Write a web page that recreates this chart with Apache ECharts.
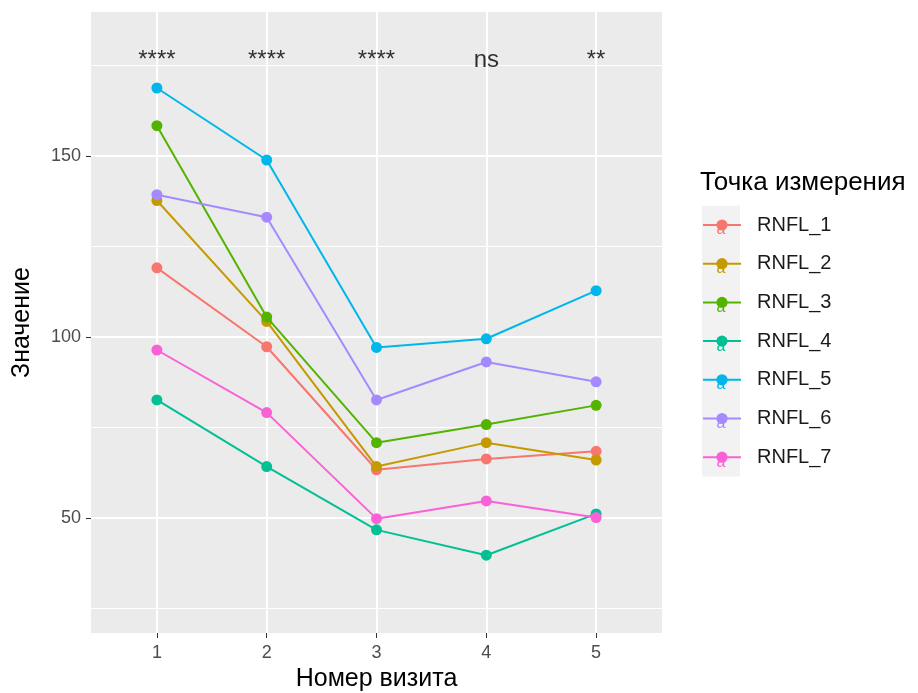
<!DOCTYPE html>
<html>
<head>
<meta charset="utf-8">
<script src="https://cdn.jsdelivr.net/npm/echarts@6/dist/echarts.min.js"></script>
<style>
  html, body { margin: 0; padding: 0; background: #ffffff; }
  #chart { width: 918px; height: 693px; }
</style>
</head>
<body>
<div id="chart"></div>
<script>
// Visits on the x axis
const visits = [1, 2, 3, 4, 5];

// Mean RNFL value per measurement point, per visit
const rnfl1 = [119.1, 97.3, 63.3, 66.3, 68.4];
const rnfl2 = [137.7, 104.3, 64.2, 70.8, 66.0];
const rnfl3 = [158.4, 105.5, 70.8, 75.8, 81.1];
const rnfl4 = [82.6, 64.2, 46.7, 39.7, 51.1];
const rnfl5 = [168.8, 148.9, 97.1, 99.5, 112.8];
const rnfl6 = [139.3, 133.1, 82.6, 93.1, 87.6];
const rnfl7 = [96.4, 79.1, 49.8, 54.7, 50.1];

const seriesNames = ['RNFL_1', 'RNFL_2', 'RNFL_3', 'RNFL_4', 'RNFL_5', 'RNFL_6', 'RNFL_7'];
const seriesValues = [rnfl1, rnfl2, rnfl3, rnfl4, rnfl5, rnfl6, rnfl7];
const palette = ['#F8766D', '#C49A00', '#53B400', '#00C094', '#00B6EB', '#A58AFF', '#FB61D7'];

// Significance labels per visit and the height where they sit
const signifLabels = ['****', '****', '****', 'ns', '**'];
const signifY = 176.4;

// Axis ticks
const yMajorTicks = [50, 100, 150];
const yMinorTicks = [25, 75, 125, 175];
const yMin = 18.2, yMax = 189.8;
const xMin = 0.4, xMax = 5.6;

const FONT = 'Liberation Sans, Arial, sans-serif';

const chart = echarts.init(document.getElementById('chart'), null, { renderer: 'canvas' });

const lineSeries = seriesNames.map((name, i) => ({
  name: name,
  type: 'line',
  xAxisIndex: 0,
  yAxisIndex: 0,
  data: visits.map((v, j) => [v, seriesValues[i][j]]),
  symbol: 'circle',
  symbolSize: 11,
  showSymbol: true,
  lineStyle: { width: 2, color: palette[i] },
  itemStyle: { color: palette[i] },
  z: 3 + i,
  emphasis: { disabled: true },
  animation: false
}));

const signifSeries = {
  name: 'signif',
  type: 'scatter',
  xAxisIndex: 0,
  yAxisIndex: 0,
  data: visits.map((v, j) => ({ value: [v, signifY], label: { formatter: signifLabels[j] } })),
  symbolSize: 0,
  label: {
    show: true,
    position: 'inside',
    fontFamily: FONT,
    fontSize: 24,
    lineHeight: 24,
    color: '#000000',
    align: 'center',
    verticalAlign: 'middle'
  },
  z: 20,
  silent: true,
  animation: false
};

// Legend layout
const legendFirstCenter = 225;
const legendStep = 38.7;
const legendTextSize = 20;
const keyLeft = 702, keyWidth = 38;

const graphics = [
  {
    type: 'text',
    left: 700,
    top: 170,
    style: { text: 'Точка измерения', fontFamily: FONT, fontSize: 26, fill: '#000000' }
  },
  {
    type: 'rect',
    shape: { x: keyLeft, y: legendFirstCenter - legendStep / 2, width: keyWidth, height: legendStep * 7 },
    style: { fill: '#F2F2F2' },
    z: -1
  }
];
seriesNames.forEach((n, i) => {
  graphics.push({
    type: 'text',
    x: keyLeft + keyWidth / 2,
    y: legendFirstCenter + legendStep * i + 5,
    style: {
      text: 'a', fontFamily: FONT, fontSize: 16, fill: palette[i],
      align: 'center', verticalAlign: 'middle'
    },
    z: 100
  });
});

const option = {
  backgroundColor: '#ffffff',
  animation: false,
  grid: {
    left: 91, right: 256, top: 12, bottom: 60,
    outerBoundsMode: 'none',
    containLabel: false,
    show: true, backgroundColor: '#EBEBEB', borderWidth: 0
  },
  legend: {
    data: seriesNames,
    orient: 'vertical',
    left: keyLeft,
    top: legendFirstCenter - legendTextSize / 2,
    padding: 0,
    itemWidth: keyWidth,
    itemHeight: 14,
    itemGap: legendStep - legendTextSize,
    selectedMode: false,
    textStyle: {
      fontFamily: FONT, fontSize: legendTextSize, color: '#1A1A1A',
      lineHeight: legendTextSize, padding: [0, 0, 0, 11]
    }
  },
  xAxis: {
    type: 'value',
    min: xMin,
    max: xMax,
    name: 'Номер визита',
    nameLocation: 'middle',
    nameGap: 33,
    nameTextStyle: { fontFamily: FONT, fontSize: 25, color: '#000000' },
    axisLine: { show: false },
    axisTick: { show: true, customValues: visits, length: 5, lineStyle: { color: '#333333', width: 1 } },
    axisLabel: { customValues: visits, margin: 11, fontFamily: FONT, fontSize: 18, color: '#4D4D4D' },
    splitLine: { show: true, lineStyle: { color: '#FFFFFF', width: 2 } }
  },
  yAxis: [
    {
      type: 'value',
      min: yMin,
      max: yMax,
      name: 'Значение',
      nameLocation: 'middle',
      nameGap: 56,
      nameRotate: 90,
      nameTextStyle: { fontFamily: FONT, fontSize: 25, color: '#000000' },
      axisLine: { show: false },
      axisTick: { show: true, customValues: yMajorTicks, length: 5, lineStyle: { color: '#333333', width: 1 } },
      axisLabel: { customValues: yMajorTicks, margin: 10, fontFamily: FONT, fontSize: 18, color: '#4D4D4D' },
      splitLine: { show: true, lineStyle: { color: '#FFFFFF', width: 2 } },
      z: 2
    },
    {
      type: 'value',
      min: yMin,
      max: yMax,
      position: 'left',
      axisLine: { show: false },
      axisTick: { show: false, customValues: yMinorTicks },
      axisLabel: { show: false, customValues: yMinorTicks },
      splitLine: { show: true, lineStyle: { color: '#FFFFFF', width: 1 } },
      z: 1
    }
  ],
  series: lineSeries.concat([signifSeries]),
  graphic: graphics
};

chart.setOption(option);
</script>
</body>
</html>
